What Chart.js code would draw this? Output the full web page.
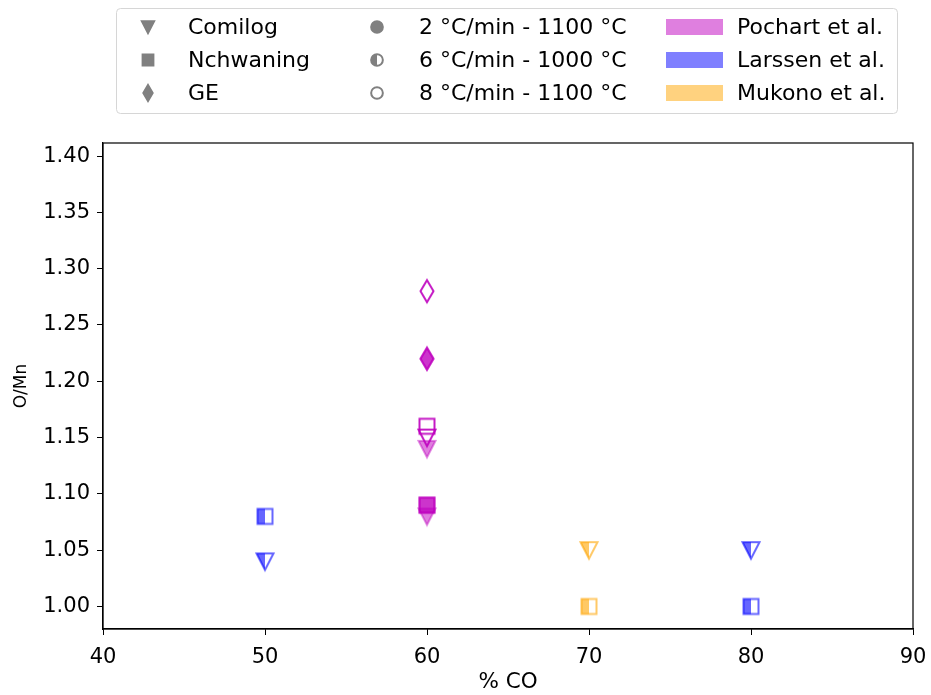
<!DOCTYPE html>
<html>
<head>
<meta charset="utf-8">
<script src="https://cdn.jsdelivr.net/npm/chart.js@4.4.0/dist/chart.umd.min.js"></script>
<style>
  html, body { margin: 0; padding: 0; background: #fff; }
  #wrap { width: 931px; height: 695px; }
</style>
</head>
<body>
<div id="wrap"><canvas id="myChart" width="931" height="695"></canvas></div>
<script>
// axis ticks
const xTicks = [40, 50, 60, 70, 80, 90];
const yTicks = [1.00, 1.05, 1.10, 1.15, 1.20, 1.25, 1.30, 1.35, 1.40];

// Pochart et al. - all at 60 % CO
const pochartCO = 60;
const pochartComilog2 = [1.08, 1.14];
const pochartNchwaning2 = [1.09, 1.09];
const pochartGE2 = [1.22, 1.22];
const pochartComilog8 = [1.15];
const pochartNchwaning8 = [1.16];
const pochartGE8 = [1.28];

// Larssen et al.
const larssenCO = [50, 80];
const larssenComilog6 = [1.04, 1.05];
const larssenNchwaning6 = [1.08, 1.00];

// Mukono et al.
const mukonoCO = [70];
const mukonoComilog6 = [1.05];
const mukonoNchwaning6 = [1.00];

// legend texts
const sampleNames = ['Comilog', 'Nchwaning', 'GE'];
const rateNames = ['2 °C/min - 1100 °C', '6 °C/min - 1000 °C', '8 °C/min - 1100 °C'];
const sourceNames = ['Pochart et al.', 'Larssen et al.', 'Mukono et al.'];

const MAGENTA = '191,0,191';
const BLUE = '0,0,255';
const ORANGE = '255,165,0';
const GREY = '128,128,128';
const FONT = 'DejaVu Sans';

function shapePath(ctx, shape, k) {
    ctx.beginPath();
    if (shape == 'tri') {
        ctx.moveTo(-8.5 * k, -8 * k);
        ctx.lineTo(8.5 * k, -8 * k);
        ctx.lineTo(0, 8.5 * k);
        ctx.closePath();
    } else if (shape == 'sq') {
        ctx.rect(-7.5 * k, -7.5 * k, 15 * k, 15 * k);
    } else if (shape == 'dia') {
        ctx.moveTo(0, -11 * k);
        ctx.lineTo(6.5 * k, 0);
        ctx.lineTo(0, 11 * k);
        ctx.lineTo(-6.5 * k, 0);
        ctx.closePath();
    } else {
        ctx.arc(0, 0, 6.5 * k, 0, Math.PI * 2);
    }
}

// fill: 'full', 'left' or 'none'
function marker(shape, rgb, fill, fillA, edgeA, k) {
    k = k || 1;
    const c = document.createElement('canvas');
    c.width = 30; c.height = 30;
    const ctx = c.getContext('2d');
    ctx.translate(15, 15);
    ctx.lineJoin = 'miter';
    if (fill == 'full') {
        shapePath(ctx, shape, k);
        ctx.fillStyle = 'rgba(' + rgb + ',' + fillA + ')';
        ctx.fill();
    } else if (fill == 'left') {
        ctx.save();
        ctx.beginPath();
        ctx.rect(-15, -15, 15, 30);
        ctx.clip();
        shapePath(ctx, shape, k);
        ctx.fillStyle = 'rgba(' + rgb + ',' + fillA + ')';
        ctx.fill();
        ctx.restore();
    }
    shapePath(ctx, shape, k);
    ctx.lineWidth = 2;
    ctx.strokeStyle = 'rgba(' + rgb + ',' + edgeA + ')';
    ctx.stroke();
    return c;
}

function pts(xs, ys) {
    return ys.map((y, i) => ({ x: Array.isArray(xs) ? xs[i] : xs, y: y }));
}

function ds(label, data, style) {
    return { label: label, data: data, pointStyle: style, pointRadius: 9, showLine: false };
}

const datasets = [
    ds('Pochart Comilog 2', pts(pochartCO, pochartComilog2), marker('tri', MAGENTA, 'full', 0.5, 0.45)),
    ds('Pochart Nchwaning 2', pts(pochartCO, pochartNchwaning2), marker('sq', MAGENTA, 'full', 0.55, 0.65)),
    ds('Pochart GE 2', pts(pochartCO, pochartGE2), marker('dia', MAGENTA, 'full', 0.55, 0.65)),
    ds('Pochart Comilog 8', pts(pochartCO, pochartComilog8), marker('tri', MAGENTA, 'none', 0, 0.9)),
    ds('Pochart Nchwaning 8', pts(pochartCO, pochartNchwaning8), marker('sq', MAGENTA, 'none', 0, 0.9)),
    ds('Pochart GE 8', pts(pochartCO, pochartGE8), marker('dia', MAGENTA, 'none', 0, 0.9)),
    ds('Larssen Comilog 6', pts(larssenCO, larssenComilog6), marker('tri', BLUE, 'left', 0.6, 0.6)),
    ds('Larssen Nchwaning 6', pts(larssenCO, larssenNchwaning6), marker('sq', BLUE, 'left', 0.6, 0.6)),
    ds('Mukono Comilog 6', pts(mukonoCO, mukonoComilog6), marker('tri', ORANGE, 'left', 0.6, 0.6)),
    ds('Mukono Nchwaning 6', pts(mukonoCO, mukonoNchwaning6), marker('sq', ORANGE, 'left', 0.6, 0.6))
];

// box around the axes (top and right too)
const frameBox = {
    id: 'frameBox',
    afterDraw(chart) {
        const { ctx, chartArea: { left, top, width, height } } = chart;
        ctx.save();
        ctx.strokeStyle = '#000';
        ctx.lineWidth = 1.2;
        ctx.strokeRect(left, top, width, height);
        ctx.restore();
    }
};

// matplotlib style legend above the plot
const legendBox = {
    id: 'legendBox',
    afterDraw(chart) {
        const ctx = chart.ctx;
        ctx.save();
        ctx.beginPath();
        ctx.roundRect(116.5, 8.5, 781, 105, 4);
        ctx.fillStyle = '#fff';
        ctx.fill();
        ctx.strokeStyle = '#d6d6d6';
        ctx.lineWidth = 1;
        ctx.stroke();

        const rows = [27, 60, 93];
        const sampleShapes = ['tri', 'sq', 'dia'];
        const rateFills = ['full', 'left', 'none'];
        const patchColors = ['rgba(' + MAGENTA + ',0.5)', 'rgba(' + BLUE + ',0.5)', 'rgba(' + ORANGE + ',0.5)'];
        ctx.font = '22px "' + FONT + '"';
        ctx.textBaseline = 'middle';
        ctx.textAlign = 'left';
        for (let i = 0; i < 3; i++) {
            const y = rows[i];
            ctx.drawImage(marker(sampleShapes[i], GREY, 'full', 1, 1, 0.72), 148 - 15, y - 15);
            ctx.drawImage(marker('circ', GREY, rateFills[i], 1, 1, 0.9), 377 - 15, y - 15);
            ctx.fillStyle = patchColors[i];
            ctx.fillRect(666, y - 8, 57, 16);

            ctx.fillStyle = '#000';
            ctx.fillText(sampleNames[i], 188, y + 1);
            ctx.fillText(rateNames[i], 419, y + 1);
            ctx.fillText(sourceNames[i], 737, y + 1);
        }
        ctx.restore();
    }
};

const tickFont = { family: FONT, size: 21 };

const config = {
    type: 'scatter',
    data: { datasets: datasets },
    options: {
        responsive: false,
        animation: false,
        layout: { padding: { top: 143, right: 18, left: 0, bottom: 0 } },
        plugins: {
            legend: { display: false },
            tooltip: { enabled: false }
        },
        scales: {
            x: {
                type: 'linear',
                min: 40,
                max: 90,
                afterBuildTicks: (s) => { s.ticks = xTicks.map(v => ({ value: v })); },
                afterFit: (s) => { s.height = 66; s.paddingLeft = 0; s.paddingRight = 0; },
                grid: { drawOnChartArea: false, drawTicks: true, tickLength: 6, color: '#000', lineWidth: 1 },
                border: { color: '#000', width: 1.2 },
                ticks: { color: '#000', font: tickFont, padding: 10, maxRotation: 0, autoSkip: false },
                title: { display: true, text: '% CO', color: '#000', font: { family: FONT, size: 21.5 }, padding: { top: 0, bottom: 0 } }
            },
            y: {
                type: 'linear',
                min: 0.98,
                max: 1.4116,
                afterBuildTicks: (s) => { s.ticks = yTicks.map(v => ({ value: v })); },
                afterFit: (s) => { s.width = 103; s.paddingTop = 0; s.paddingBottom = 0; },
                grid: { drawOnChartArea: false, drawTicks: true, tickLength: 6, color: '#000', lineWidth: 1 },
                border: { color: '#000', width: 1.2 },
                ticks: { color: '#000', font: tickFont, padding: 7, autoSkip: false, callback: (v) => v.toFixed(2) },
                title: { display: true, text: 'O/Mn', color: '#000', font: { family: FONT, size: 17 }, padding: { top: 11, bottom: 2 } }
            }
        }
    },
    plugins: [frameBox, legendBox]
};

const myChart = new Chart(document.getElementById('myChart'), config);
</script>
</body>
</html>
